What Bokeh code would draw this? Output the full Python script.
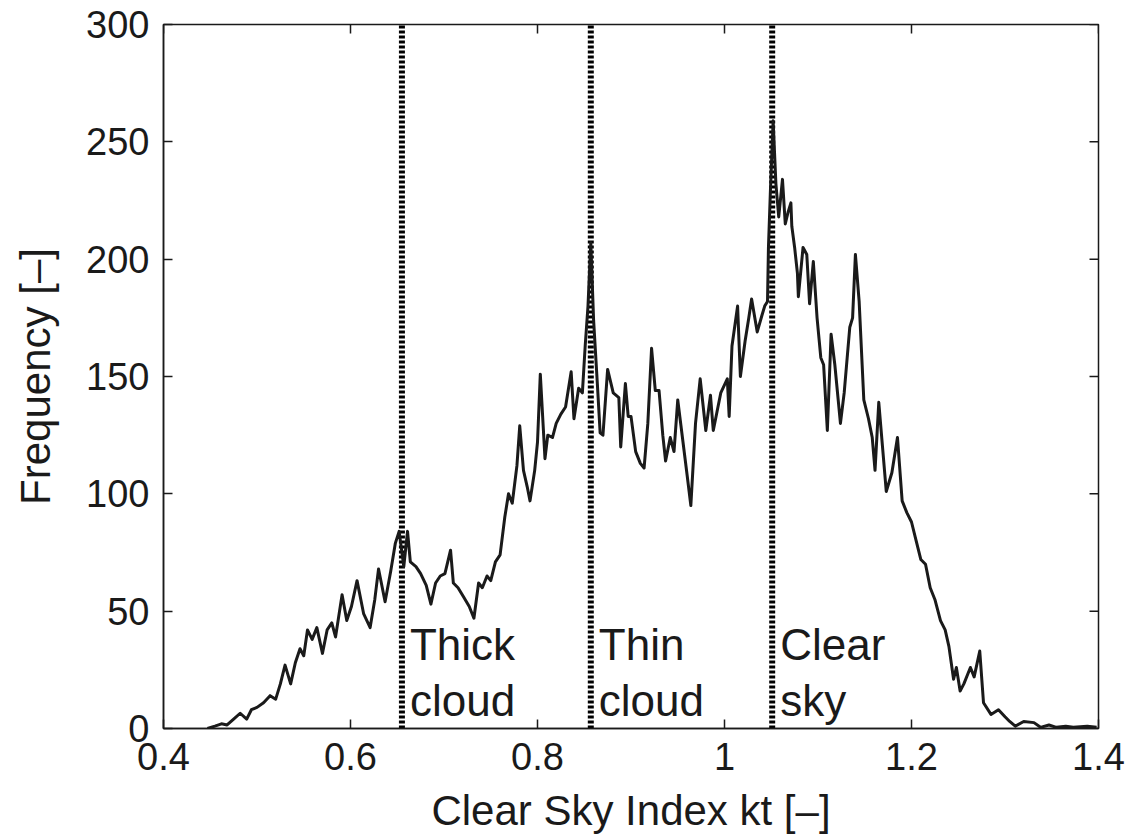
import math
from bokeh.plotting import figure
from bokeh.models import Range1d, FixedTicker
from bokeh.core.properties import value
from bokeh.embed import file_html
from bokeh.resources import INLINE

# Clear sky index (kt) and histogram frequency
kt = [0.447, 0.455, 0.462, 0.468, 0.475, 0.482, 0.489, 0.494, 0.500, 0.507,
      0.514, 0.520, 0.525, 0.530, 0.536, 0.541, 0.546, 0.550, 0.554, 0.559,
      0.564, 0.570, 0.575, 0.580, 0.584, 0.591, 0.596, 0.601, 0.607, 0.614,
      0.621, 0.626, 0.630, 0.637, 0.643, 0.648, 0.652, 0.657, 0.661, 0.664,
      0.670, 0.675, 0.681, 0.686, 0.691, 0.696, 0.701, 0.707, 0.710, 0.715,
      0.721, 0.727, 0.732, 0.737, 0.741, 0.746, 0.750, 0.755, 0.760, 0.765,
      0.769, 0.773, 0.778, 0.781, 0.785, 0.789, 0.792, 0.797, 0.800, 0.803,
      0.808, 0.811, 0.816, 0.820, 0.825, 0.830, 0.836, 0.839, 0.844, 0.848,
      0.851, 0.854, 0.857, 0.860, 0.864, 0.867, 0.870, 0.875, 0.881, 0.887,
      0.889, 0.894, 0.897, 0.900, 0.905, 0.910, 0.914, 0.918, 0.922, 0.926,
      0.930, 0.934, 0.937, 0.942, 0.946, 0.950, 0.955, 0.960, 0.964, 0.969,
      0.974, 0.980, 0.985, 0.988, 0.992, 0.996, 1.003, 1.005, 1.008, 1.014,
      1.017, 1.022, 1.026, 1.029, 1.035, 1.040, 1.043, 1.046, 1.047, 1.049,
      1.052, 1.055, 1.058, 1.062, 1.065, 1.068, 1.071, 1.072, 1.075, 1.078,
      1.079, 1.084, 1.088, 1.091, 1.095, 1.099, 1.103, 1.106, 1.110, 1.114,
      1.118, 1.124, 1.128, 1.134, 1.137, 1.140, 1.144, 1.149, 1.154, 1.158,
      1.161, 1.165, 1.169, 1.173, 1.179, 1.185, 1.190, 1.195, 1.200, 1.205,
      1.210, 1.215, 1.220, 1.225, 1.231, 1.236, 1.240, 1.245, 1.248, 1.252,
      1.256, 1.263, 1.267, 1.273, 1.277, 1.285, 1.293, 1.300, 1.305, 1.311,
      1.320, 1.331, 1.338, 1.347, 1.355, 1.365, 1.373, 1.388, 1.398]
freq = [0, 1, 2, 1.5, 4, 6.5, 4, 8, 9, 11,
        14, 12.5, 19, 27, 19, 28, 34, 31, 42, 38,
        43, 32, 42, 45, 39, 57, 46, 52, 63, 49,
        43, 55, 68, 54, 67, 79, 84, 69, 84, 71,
        69, 66, 61, 53, 62, 65, 66, 76, 62, 60,
        56, 52, 47, 62, 60, 65, 63, 71, 74, 90,
        100, 96, 112, 129, 110, 103, 97, 110, 122, 151,
        115, 125, 124, 130, 134, 137, 152, 132, 145, 143,
        163, 180, 207, 174, 147, 126, 125, 153, 143, 141,
        120, 147, 133, 133, 118, 113, 111, 130, 162, 144,
        144, 125, 114, 124, 118, 140, 124, 108, 95, 130,
        149, 127, 142, 127, 135, 143, 149, 133, 163, 180,
        150, 165, 175, 183, 169, 176, 180, 182, 205, 228,
        259, 232, 218, 234, 215, 220, 224, 214, 205, 194,
        184, 205, 202, 181, 199, 175, 158, 155, 127, 168,
        155, 130, 143, 171, 175, 202, 182, 140, 132, 124,
        110, 139, 120, 101, 109, 124, 97, 92, 88, 80,
        72, 70, 60, 55, 46, 42, 35, 21, 26, 16,
        19, 26, 22, 33, 11, 6, 8, 5, 3, 1,
        3, 2.5, 0.5, 1.5, 0.5, 1, 0.5, 1, 0.5]

# Class boundaries (dotted lines) and their labels
boundaries = [0.655, 0.857, 1.051]
label_top = ["Thick", "Thin", "Clear"]
label_bottom = ["cloud", "cloud", "sky"]

x_ticks = [0.4, 0.6, 0.8, 1.0, 1.2, 1.4]
x_tick_labels = ["0.4", "0.6", "0.8", "1", "1.2", "1.4"]
y_ticks = [0, 50, 100, 150, 200, 250, 300]

X_MIN, X_MAX, Y_MIN, Y_MAX = 0.4, 1.4, 0, 300

FONT = "Liberation Sans"
INK = "#1a1a1a"

p = figure(width=1135, height=840, x_range=Range1d(X_MIN, X_MAX), y_range=Range1d(Y_MIN, Y_MAX),
           output_backend="svg", toolbar_location=None,
           min_border_left=163, min_border_right=37, min_border_top=24, min_border_bottom=112)
p.background_fill_color = "white"
p.border_fill_color = "white"
p.xgrid.visible = False
p.ygrid.visible = False
p.outline_line_color = INK
p.outline_line_width = 1.5

for ax, ticks in ((p.xaxis[0], x_ticks), (p.yaxis[0], y_ticks)):
    ax.ticker = FixedTicker(ticks=ticks)
    ax.major_tick_in = 9
    ax.major_tick_out = 0
    ax.minor_tick_in = 0
    ax.minor_tick_out = 0
    ax.axis_line_color = INK
    ax.axis_line_width = 1.5
    ax.major_tick_line_color = INK
    ax.major_tick_line_width = 1.5
    ax.major_label_text_font = FONT
    ax.major_label_text_color = INK
    ax.major_label_text_font_size = "38px"
    ax.major_label_standoff = 14
    ax.axis_label_text_font = FONT
    ax.axis_label_text_font_size = "42px"
    ax.axis_label_text_font_style = "normal"
    ax.axis_label_text_color = INK

p.xaxis[0].major_label_overrides = {t: s for t, s in zip(x_ticks, x_tick_labels)}
p.xaxis[0].axis_label = "Clear Sky Index kt [\u2013]"
p.yaxis[0].axis_label = "Frequency [\u2013]"
p.xaxis[0].axis_label_standoff = 14
p.yaxis[0].axis_label_standoff = 24

# inward tick marks mirrored on the top and right edges of the box
p.ray(x=x_ticks, y=[Y_MAX] * len(x_ticks), length=9, length_units="screen",
      angle=-math.pi / 2, line_color=INK, line_width=1.5)
p.ray(x=[X_MAX] * len(y_ticks), y=y_ticks, length=9, length_units="screen",
      angle=math.pi, line_color=INK, line_width=1.5)

# dotted class boundaries
for b in boundaries:
    p.line([b, b], [Y_MIN, Y_MAX], line_color="black", line_width=6, line_dash="3 2")

# frequency curve
p.line(kt, freq, line_color=INK, line_width=3, line_join="round")

# class labels
p.text(x=boundaries, y=[35.7] * 3, text=label_top, x_offset=8,
       text_font=value(FONT), text_font_size="44px", text_color=INK,
       text_baseline="alphabetic", text_align="left")
p.text(x=boundaries, y=[12] * 3, text=label_bottom, x_offset=8,
       text_font=value(FONT), text_font_size="44px", text_color=INK,
       text_baseline="alphabetic", text_align="left")

open("out.html", "w").write(file_html(p, INLINE))
